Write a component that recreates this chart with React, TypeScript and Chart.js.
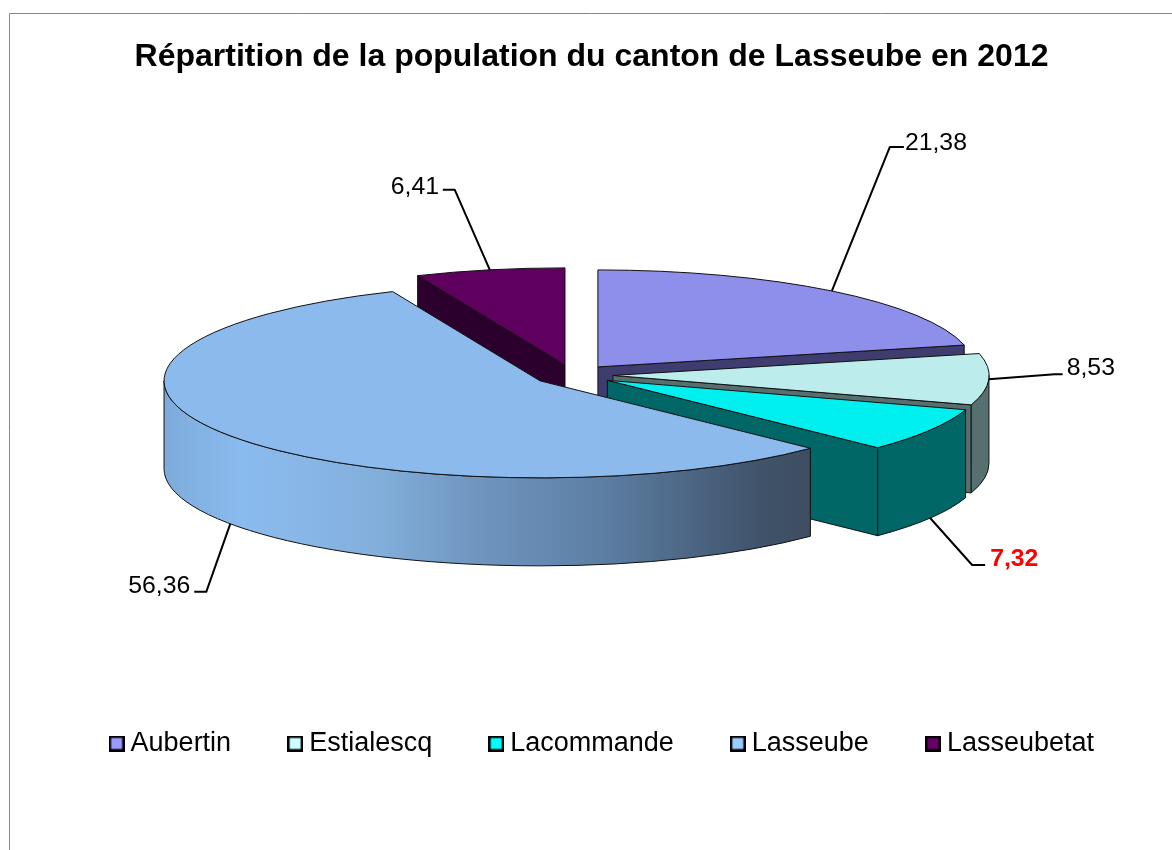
import { useEffect, useRef } from "react";
import { Chart, registerables } from "chart.js";

Chart.register(...registerables);

const TITLE = "Répartition de la population du canton de Lasseube en 2012";
const categories = ["Aubertin", "Estialescq", "Lacommande", "Lasseube", "Lasseubetat"];
const values = [21.38, 8.53, 7.32, 56.36, 6.41];
const valueLabels = ["21,38", "8,53", "7,32", "56,36", "6,41"];
const topColors = ["#8E8EEB", "#BCECEC", "#00F0F0", "#8CBAEC", "#5F005F"];
const wallColors = ["#3F3D70", "#55706F", "#006666", "#3D4F66", "#2C002C"];
const legendColors = ["#9999FF", "#CCFFFF", "#00FFFF", "#99CCFF", "#660066"];

// Projection of the flat pie into the tilted 3D look
const CX = 573;
const CY = 375;
const RADIUS = 376;
const SQUASH = 0.258;
const DEPTH = 88;
const EXPLODE = 40;

// Leader lines: elbow and stub relative to the anchor on the slice; label position relative to the anchor
const leaders = [
  { elbow: [58, -144], stub: [72, -144], text: [73, -160], bold: false, color: "#000" },
  { elbow: [66, -5], stub: [74, -5], text: [78, -24], bold: false, color: "#000" },
  { elbow: [42, 47], stub: [55, 47], text: [60, 29], bold: true, color: "#FF0000" },
  { elbow: [-24, 68], stub: [-36, 68], text: [-102, 50], bold: false, color: "#000" },
  { elbow: [-35, -80], stub: [-47, -80], text: [-99, -95], bold: false, color: "#000" },
];

const lasseubeStops: [number, string][] = [
  [0, "#7DABDB"],
  [0.12, "#8ABBEE"],
  [0.22, "#88B6E6"],
  [0.335, "#82AEDB"],
  [0.46, "#7299C3"],
  [0.68, "#5C7EA3"],
  [0.83, "#4B6380"],
  [0.925, "#3F5268"],
  [1, "#3E4E62"],
];

const FONT = "'Liberation Sans', Arial, sans-serif";
const HALF = Math.PI / 2;

function pie3dPlugin() {
  return {
    id: "pie3d",
    beforeDatasetDraw(chart: any) {
      const ctx: CanvasRenderingContext2D = chart.ctx;
      const arcs = chart.getDatasetMeta(0).data;
      const geo = arcs.map((arc: any) => {
        const mid = (arc.startAngle + arc.endAngle) / 2;
        return {
          arc,
          mid,
          x: CX + EXPLODE * Math.cos(mid),
          y: CY + EXPLODE * SQUASH * Math.sin(mid),
          r: arc.outerRadius,
          a0: arc.startAngle,
          a1: arc.endAngle,
        };
      });
      const px = (g: any, a: number, dy = 0) => [
        g.x + g.r * Math.cos(a),
        g.y + g.r * SQUASH * Math.sin(a) + dy,
      ];
      const quad = (pts: number[][], fill: string | CanvasGradient) => {
        ctx.beginPath();
        pts.forEach((p, i) => (i ? ctx.lineTo(p[0], p[1]) : ctx.moveTo(p[0], p[1])));
        ctx.closePath();
        ctx.fillStyle = fill;
        ctx.fill();
        ctx.stroke();
      };
      ctx.save();
      ctx.lineWidth = 1;
      ctx.strokeStyle = "#111";
      ctx.lineJoin = "round";
      const order = [4, 0, 1, 2, 3];
      order.forEach((i) => {
        const g = geo[i];
        const wall = wallColors[i];
        const apex = [g.x, g.y];
        const apexB = [g.x, g.y + DEPTH];
        // radial cut faces that look towards the viewer
        [g.a0, g.a1].forEach((a) => {
          const n = a === g.a1 ? a + HALF : a - HALF;
          if (Math.sin(n) > 0.02) {
            quad([apex, px(g, a), px(g, a, DEPTH), apexB], wall);
          }
        });
        // curved outer wall, visible on the near half only
        const from = Math.max(g.a0, 0);
        const to = Math.min(g.a1, Math.PI);
        if (to > from) {
          let fill: string | CanvasGradient = wall;
          if (i === 3) {
            const left = px(g, Math.PI)[0];
            const right = px(g, from)[0];
            const grad = ctx.createLinearGradient(left, 0, right, 0);
            lasseubeStops.forEach(([o, c]) => grad.addColorStop(o, c));
            fill = grad;
          }
          ctx.beginPath();
          ctx.ellipse(g.x, g.y, g.r, g.r * SQUASH, 0, from, to);
          ctx.ellipse(g.x, g.y + DEPTH, g.r, g.r * SQUASH, 0, to, from, true);
          ctx.closePath();
          ctx.fillStyle = fill;
          ctx.fill();
          ctx.stroke();
        }
        // top face, drawn by the library's arc element through the projection
        ctx.save();
        ctx.translate(g.x, g.y);
        ctx.scale(1, SQUASH);
        ctx.translate(-g.arc.x, -g.arc.y);
        g.arc.draw(ctx);
        ctx.restore();
        ctx.beginPath();
        ctx.moveTo(g.x, g.y);
        ctx.ellipse(g.x, g.y, g.r, g.r * SQUASH, 0, g.a0, g.a1);
        ctx.closePath();
        ctx.stroke();
      });
      // leaders and value labels
      ctx.textBaseline = "top";
      ctx.textAlign = "left";
      geo.forEach((g: any, i: number) => {
        const l = leaders[i];
        const s = Math.sin(g.mid);
        const a = px(g, g.mid, s > 0.1 ? DEPTH : 0);
        ctx.beginPath();
        ctx.moveTo(a[0], a[1]);
        ctx.lineTo(a[0] + l.elbow[0], a[1] + l.elbow[1]);
        ctx.lineTo(a[0] + l.stub[0], a[1] + l.stub[1]);
        ctx.lineWidth = 2;
        ctx.strokeStyle = "#000";
        ctx.stroke();
        ctx.font = `${l.bold ? "bold " : ""}24.8px ${FONT}`;
        ctx.fillStyle = l.color;
        ctx.fillText(valueLabels[i], a[0] + l.text[0], a[1] + l.text[1]);
      });
      ctx.restore();
      return false;
    },
    beforeDraw(chart: any) {
      const ctx: CanvasRenderingContext2D = chart.ctx;
      ctx.save();
      ctx.strokeStyle = "#888";
      ctx.lineWidth = 1;
      ctx.beginPath();
      ctx.moveTo(9.5, chart.height);
      ctx.lineTo(9.5, 13.5);
      ctx.lineTo(chart.width, 13.5);
      ctx.stroke();
      ctx.restore();
    },
  };
}

function legendSwatch(color: string) {
  const c = document.createElement("canvas");
  c.width = 16;
  c.height = 16;
  const x = c.getContext("2d")!;
  x.fillStyle = color;
  x.strokeStyle = "#000";
  x.lineWidth = 2.5;
  x.beginPath();
  x.rect(1.25, 1.25, 13.5, 13.5);
  x.fill();
  x.stroke();
  return c;
}

export default function App() {
  const ref = useRef<HTMLCanvasElement>(null);
  useEffect(() => {
    document.body.style.margin = "0";
    document.body.style.background = "#fff";
    const chart = new Chart(ref.current!, {
      type: "pie",
      data: {
        labels: categories,
        datasets: [{ data: values, backgroundColor: topColors, borderWidth: 0 }],
      },
      options: {
        responsive: false,
        animation: false,
        radius: RADIUS,
        layout: { padding: { left: 25.5, right: 14.5, top: 38, bottom: 83 } },
        plugins: {
          tooltip: { enabled: false },
          title: {
            display: true,
            text: TITLE,
            color: "#000",
            font: { family: FONT, size: 32, weight: "bold" },
            padding: { top: 0, bottom: 10 },
          },
          legend: {
            display: true,
            position: "bottom",
            align: "end",
            labels: {
              usePointStyle: true,
              pointStyleWidth: 1,
              padding: 63.5,
              color: "#000",
              font: { family: FONT, size: 27 },
              generateLabels: () =>
                categories.map((text, i) => ({
                  text,
                  fillStyle: legendColors[i],
                  strokeStyle: "#000",
                  lineWidth: 2,
                  pointStyle: legendSwatch(legendColors[i]),
                  hidden: false,
                  index: i,
                  fontColor: "#000",
                })),
            },
          },
        },
      } as any,
      plugins: [pie3dPlugin()],
    });
    return () => chart.destroy();
  }, []);
  return <canvas ref={ref} width={1172} height={850} style={{ display: "block" }} />;
}
